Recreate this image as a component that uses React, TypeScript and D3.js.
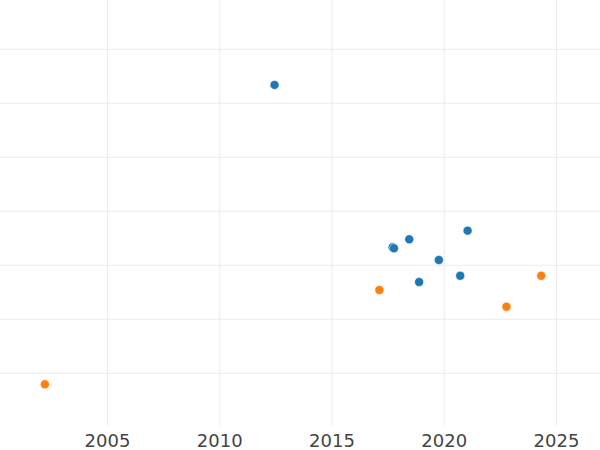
import React from "react";
import * as d3 from "d3";

const blueX = [2012.44, 2017.7, 2017.76, 2018.44, 2021.04, 2019.76, 2018.88, 2020.71];
const blueY = [6.34, 3.333, 3.315, 3.481, 3.641, 3.098, 2.691, 2.807];
const orangeX = [2017.11, 2022.77, 2024.32, 2002.21];
const orangeY = [2.543, 2.233, 2.807, 0.796];
const xTicks = [2005, 2010, 2015, 2020, 2025];
const yTicks = [1, 2, 3, 4, 5, 6, 7];

const W = 600;
const H = 450;

export default function App() {
  const x = d3.scaleLinear().domain([2000.211, 2026.937]).range([0, W]);
  const y = d3.scaleLinear().domain([1, 7]).range([373.3, 49.3]);
  const plotBottom = 425;
  const series = [
    { xs: blueX, ys: blueY, color: "#1f77b4" },
    { xs: orangeX, ys: orangeY, color: "#ff7f0e" },
  ];
  return (
    <svg
      width={W}
      height={H}
      style={{ position: "fixed", left: 0, top: 0, background: "#fff" }}
    >
      <rect x={0} y={0} width={W} height={H} fill="#fff" />
      {yTicks.map((t) => (
        <line key={"gy" + t} x1={0} x2={W} y1={y(t)} y2={y(t)} stroke="#ebebeb" strokeWidth={1} />
      ))}
      {xTicks.map((t) => (
        <line key={"gx" + t} x1={x(t)} x2={x(t)} y1={0} y2={plotBottom} stroke="#ebebeb" strokeWidth={1} />
      ))}
      {series.map((s, si) =>
        s.xs.map((v, i) => (
          <circle
            key={si + "-" + i}
            cx={x(v)}
            cy={y(s.ys[i])}
            r={4.5}
            fill={s.color}
            stroke="#fff"
            strokeWidth={0.5}
          />
        ))
      )}
      {xTicks.map((t) => (
        <text
          key={"tx" + t}
          x={x(t)}
          y={446.5}
          textAnchor="middle"
          fontFamily="DejaVu Sans"
          fontSize={18}
          fill="#444"
        >
          {t}
        </text>
      ))}
    </svg>
  );
}
